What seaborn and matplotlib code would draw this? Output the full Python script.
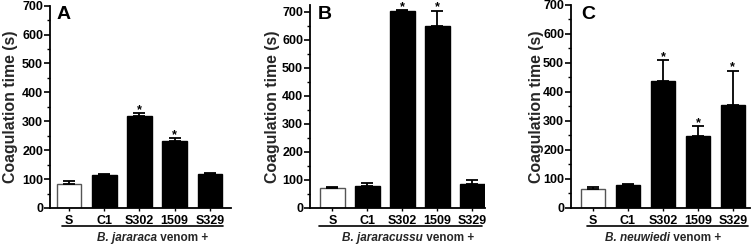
import matplotlib
matplotlib.use("Agg")
import matplotlib.pyplot as plt
import seaborn as sns
import pandas as pd
from matplotlib.ticker import MultipleLocator

sns.set_theme(style="ticks")
plt.rcParams['font.family'] = ['Liberation Sans', 'DejaVu Sans']
plt.rcParams['font.weight'] = 'bold'

categories = ["S", "C1", "S302", "1509", "S329"]

a_vals = [83, 113, 317, 233, 116]
a_errs = [10, 3, 10, 10, 5]
a_stars = [False, False, True, True, False]

b_vals = [70, 79, 703, 650, 87]
b_errs = [5, 10, 3, 54, 12]
b_stars = [False, False, True, True, False]

c_vals = [66, 78, 438, 248, 355]
c_errs = [7, 4, 70, 35, 118]
c_stars = [False, False, True, True, True]

panel_letters = ["A", "B", "C"]
venoms = ["B. jararaca", "B. jararacussu", "B. neuwiedi"]
ylabel = "Coagulation time (s)"

W, H = 752, 244
fig = plt.figure(figsize=(W / 100, H / 100), dpi=100)

layouts = [
    dict(x0=50, x1=231, top=5.7, ymax=700, xlim=(-0.54, 4.6), ylx=11, line=(62, 223), lab=97, let=57),
    dict(x0=310, x1=485, top=5.0, ymax=724, xlim=(-0.64, 4.36), ylx=273, line=(319, 482), lab=342, let=318),
    dict(x0=571, x1=750, top=4.7, ymax=700, xlim=(-0.63, 4.49), ylx=537, line=(587, 748), lab=605, let=581),
]
y0px = 208

datasets = [(a_vals, a_errs, a_stars), (b_vals, b_errs, b_stars), (c_vals, c_errs, c_stars)]

renderer = fig.canvas.get_renderer()

for i, (lay, (vals, errs, stars)) in enumerate(zip(layouts, datasets)):
    left = lay["x0"] / W
    width = (lay["x1"] - lay["x0"]) / W
    bottom = (H - y0px) / H
    height = (y0px - lay["top"]) / H
    ax = fig.add_axes([left, bottom, width, height])
    df = pd.DataFrame({"cat": categories, "val": vals})
    colors = ["white"] + ["black"] * 4
    sns.barplot(data=df, x="cat", y="val", hue="cat", palette=colors, legend=False,
                ax=ax, width=0.7, edgecolor="black", linewidth=1.0, saturation=1)
    ax.patches[0].set_edgecolor("#555555")
    ax.errorbar(range(len(categories)), vals, yerr=[[0] * len(errs), errs],
                fmt="none", ecolor="black", elinewidth=1.3, capsize=4, capthick=1.3)
    for j, (v, e, s) in enumerate(zip(vals, errs, stars)):
        if s:
            ax.annotate("*", xy=(j, v + e), xytext=(0, 0), textcoords="offset points",
                        ha="center", va="baseline", fontsize=9, fontweight="bold",
                        color="black", annotation_clip=False)
    ax.set_xlim(*lay["xlim"])
    ax.set_ylim(0, lay["ymax"])
    ax.yaxis.set_major_locator(MultipleLocator(100))
    ax.yaxis.set_minor_locator(MultipleLocator(50))
    for side in ["top", "right"]:
        ax.spines[side].set_visible(False)
    for side in ["left", "bottom"]:
        ax.spines[side].set_linewidth(1.3)
        ax.spines[side].set_color("black")
    ax.tick_params(axis="y", which="major", length=4, width=1.2, labelsize=9, pad=1.0, colors="black")
    ax.tick_params(axis="y", which="minor", length=2.5, width=1.0, colors="black")
    ax.tick_params(axis="x", length=2, width=1.0, labelsize=9, pad=3, colors="black")
    for lab in ax.get_xticklabels() + ax.get_yticklabels():
        lab.set_fontweight("bold")
    ax.set_xlabel("")
    ax.set_ylabel("")
    fig.text(lay["ylx"] / W, 1 - ((y0px + lay["top"]) / 2) / H, ylabel, rotation=90,
             ha="center", va="center", fontsize=11.4, fontweight="bold")
    fig.text(lay["let"] / W, 1 - 6 / H, panel_letters[i], ha="left", va="top",
             fontsize=14, fontweight="bold", color="black")
    l0, l1 = lay["line"]
    fig.add_artist(plt.Line2D([l0 / W, l1 / W], [1 - 226 / H, 1 - 226 / H],
                              color="black", linewidth=1.2))
    t1 = fig.text(lay["lab"] / W, 1 - 238 / H, venoms[i], ha="left", va="center",
                  fontsize=8.5, fontweight="bold", style="italic")
    ext = t1.get_window_extent(renderer=renderer)
    fig.text(ext.x1 / W, 1 - 238 / H, " venom +", ha="left", va="center",
             fontsize=8.5, fontweight="bold")

fig.savefig("out.png", dpi=100)
